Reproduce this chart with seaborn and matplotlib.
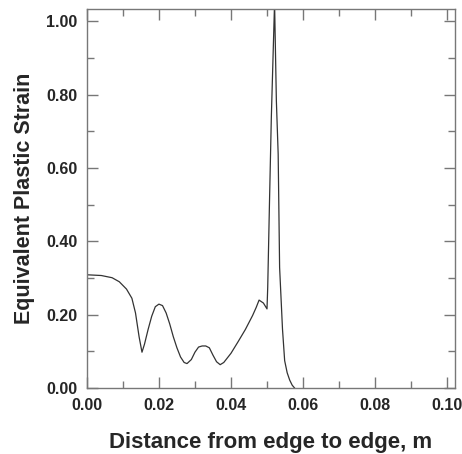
import numpy as np
import pandas as pd
import seaborn as sns
import matplotlib.pyplot as plt
from matplotlib.ticker import MultipleLocator, FormatStrFormatter

sns.set_style('ticks')
plt.rcParams['font.family'] = ['Liberation Sans', 'DejaVu Sans']

# distance (m) and equivalent plastic strain
distance = [0.0, 0.004, 0.007, 0.009, 0.011, 0.0125, 0.0135, 0.0145, 0.0153,
            0.016, 0.017, 0.018, 0.019, 0.020, 0.021, 0.022, 0.023, 0.024,
            0.025, 0.026, 0.027, 0.0278, 0.029, 0.030, 0.031, 0.032, 0.033,
            0.034, 0.035, 0.036, 0.037, 0.038, 0.040, 0.042, 0.044, 0.046,
            0.047, 0.0478, 0.049, 0.0500, 0.0502, 0.0507, 0.0512, 0.0521,
            0.0526, 0.0531, 0.0535, 0.0543, 0.0549, 0.0556, 0.0563, 0.0570,
            0.0577]
strain = [0.309, 0.307, 0.301, 0.290, 0.270, 0.245, 0.205, 0.140, 0.098,
          0.120, 0.160, 0.196, 0.222, 0.229, 0.225, 0.205, 0.175, 0.140,
          0.110, 0.085, 0.070, 0.067, 0.078, 0.098, 0.112, 0.115, 0.115,
          0.110, 0.090, 0.072, 0.064, 0.070, 0.095, 0.127, 0.160, 0.198,
          0.220, 0.240, 0.232, 0.216, 0.275, 0.511, 0.737, 1.05,
          0.783, 0.638, 0.329, 0.161, 0.075, 0.042, 0.022, 0.008,
          0.0]

df = pd.DataFrame({'x': distance, 'y': strain})

fig = plt.figure(figsize=(4.62, 4.54), dpi=100)
ax = fig.add_axes([0.188, 0.145, 0.797, 0.835])
sns.lineplot(data=df, x='x', y='y', ax=ax, color='#333333', linewidth=0.9,
             sort=False, estimator=None)

ax.set_xlim(0, 0.1022)
ax.set_ylim(0, 1.033)
ax.xaxis.set_major_locator(MultipleLocator(0.02))
ax.xaxis.set_minor_locator(MultipleLocator(0.01))
ax.yaxis.set_major_locator(MultipleLocator(0.2))
ax.yaxis.set_minor_locator(MultipleLocator(0.1))
ax.xaxis.set_major_formatter(FormatStrFormatter('%.2f'))
ax.yaxis.set_major_formatter(FormatStrFormatter('%.2f'))

ax.tick_params(which='both', direction='in', top=True, right=True,
               color='#777777', width=1.0)
ax.tick_params(which='major', length=8, labelsize=11.5, pad=7)
ax.tick_params(which='minor', length=5)
for lab in ax.get_xticklabels() + ax.get_yticklabels():
    lab.set_fontweight('bold')
for s in ax.spines.values():
    s.set_color('#777777')
    s.set_linewidth(1.0)

ax.set_xlabel('Distance from edge to edge, m', fontsize=16, fontweight='bold', labelpad=14)
ax.set_ylabel('Equivalent Plastic Strain', fontsize=15.5, fontweight='bold', labelpad=8)

fig.savefig('out.png', dpi=100)
